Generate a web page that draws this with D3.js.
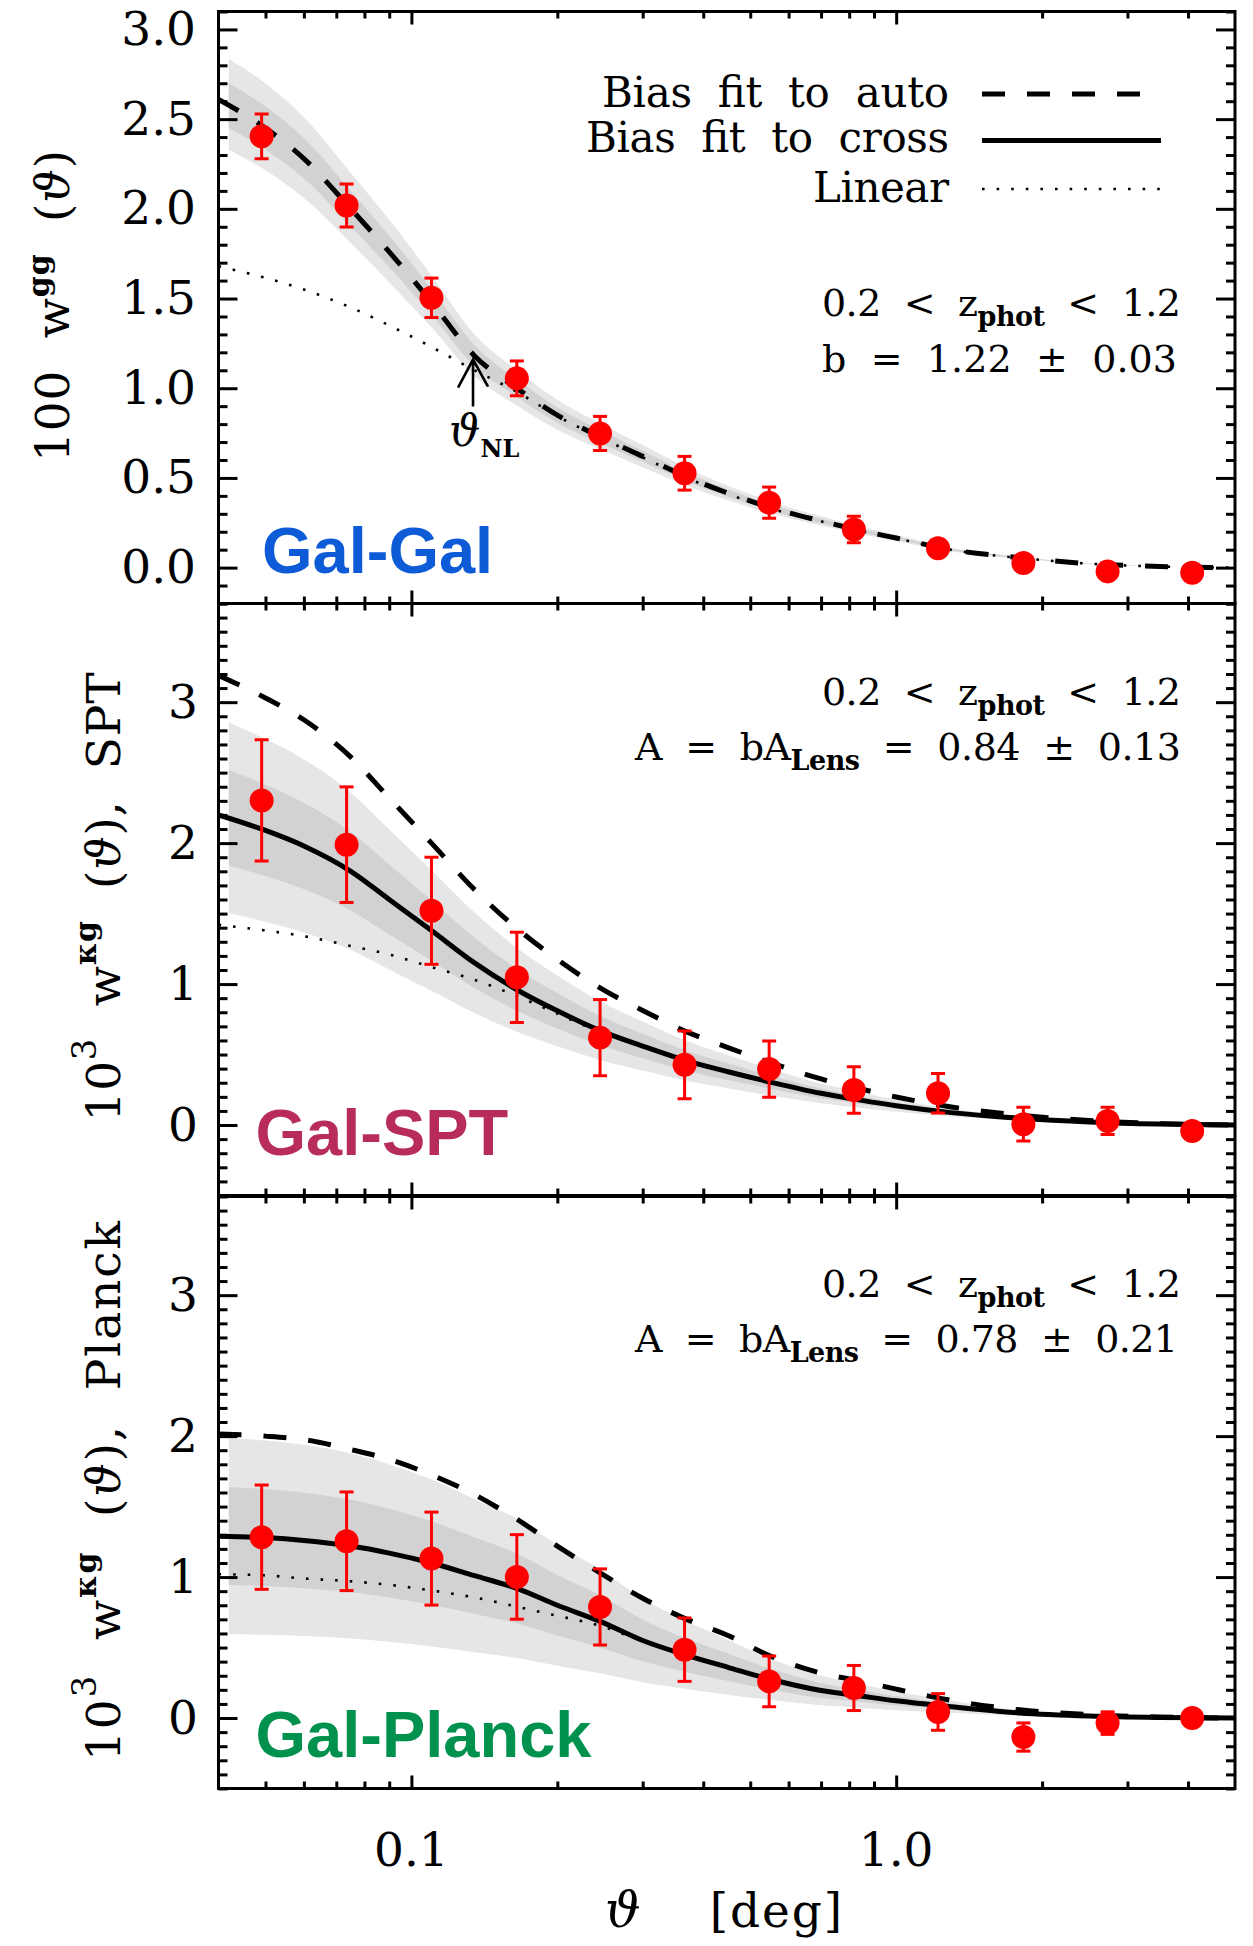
<!DOCTYPE html>
<html><head><meta charset="utf-8">
<script src="https://cdn.jsdelivr.net/npm/d3@7"></script>
<style>
html,body{margin:0;padding:0;background:#fff;}
svg{display:block;}
text{font-family:"DejaVu Serif",serif;fill:#000;}
</style></head><body>
<svg id="c" width="1253" height="1946"></svg>
<script>
// ================= DATA =================
const thetaBins = [0.0491, 0.0735, 0.110, 0.165, 0.245, 0.366, 0.547, 0.818, 1.22, 1.83, 2.73, 4.08];

const galGalW   = [2.404, 2.019, 1.504, 1.055, 0.748, 0.526, 0.362, 0.213, 0.108, 0.026, -0.021, -0.028];
const galGalErr = [0.125, 0.120, 0.110, 0.097, 0.095, 0.094, 0.087, 0.074, 0.045, 0.035, 0.025, 0.020];

const galSptW   = [2.303, 1.989, 1.520, 1.048, 0.620, 0.427, 0.397, 0.249, 0.226, 0.006, 0.029, -0.042];
const galSptErr = [0.43, 0.41, 0.38, 0.32, 0.27, 0.24, 0.20, 0.165, 0.14, 0.12, 0.097, 0.03];

const galPlanckW   = [1.283, 1.254, 1.131, 1.001, 0.788, 0.485, 0.260, 0.213, 0.043, -0.135, -0.036, 0.000];
const galPlanckErr = [0.37, 0.35, 0.33, 0.30, 0.27, 0.225, 0.18, 0.16, 0.13, 0.10, 0.08, 0.05];

// model curves sampled on theta grid
const modelTheta = [0.04,0.05,0.06,0.075,0.09,0.11,0.135,0.165,0.2,0.245,0.3,0.37,0.45,0.55,0.7,0.85,1.0,1.3,1.8,2.5,3.5,5.0];
const bandTheta  = [0.042,0.05,0.06,0.075,0.09,0.11,0.135,0.165,0.2,0.245,0.3,0.37,0.45,0.55,0.7,0.85,1.0,1.3,1.8,2.5,3.5,5.0];

// Gal-Gal
const ggAuto   = [2.61,2.45,2.28,2.00,1.76,1.48,1.18,1.00,0.85,0.73,0.62,0.505,0.415,0.335,0.26,0.205,0.165,0.10,0.055,0.022,0.006,0.0];
const ggLinear = [1.68,1.615,1.55,1.45,1.35,1.23,1.10,0.98,0.845,0.725,0.615,0.50,0.41,0.33,0.258,0.203,0.163,0.099,0.054,0.022,0.006,0.0];
const ggLightLo = [2.33,2.215,2.06,1.81,1.59,1.34,1.067,0.904,0.768,0.66,0.56,0.457,0.375,0.303,0.235,0.185,0.149,0.09,0.05,0.02,0.005,0];
const ggDarkLo  = [2.45,2.33,2.17,1.90,1.675,1.41,1.122,0.951,0.808,0.694,0.59,0.48,0.395,0.319,0.247,0.195,0.157,0.095,0.052,0.021,0.006,0];
const ggDarkHi  = [2.70,2.57,2.395,2.10,1.85,1.555,1.24,1.05,0.893,0.767,0.651,0.53,0.436,0.352,0.273,0.215,0.173,0.105,0.058,0.023,0.006,0];
const ggLightHi = [2.835,2.70,2.51,2.20,1.94,1.63,1.30,1.10,0.936,0.804,0.683,0.556,0.457,0.369,0.286,0.226,0.182,0.11,0.061,0.024,0.007,0];

// Gal-SPT
const sptCross  = [2.20,2.09,1.98,1.80,1.60,1.38,1.15,0.96,0.81,0.67,0.56,0.455,0.378,0.305,0.225,0.175,0.137,0.088,0.048,0.022,0.007,0.0];
const sptAuto   = [3.19,3.03,2.875,2.61,2.32,2.00,1.67,1.395,1.175,0.973,0.813,0.661,0.549,0.443,0.327,0.254,0.199,0.128,0.070,0.032,0.010,0.0];
const sptLinear = [1.42,1.38,1.34,1.27,1.21,1.12,1.03,0.915,0.79,0.66,0.555,0.45,0.374,0.302,0.223,0.173,0.136,0.087,0.047,0.022,0.007,0.0];
const sptLightLo = [1.504,1.442,1.366,1.242,1.104,0.952,0.794,0.662,0.559,0.462,0.386,0.314,0.261,0.210,0.155,0.121,0.095,0.061,0.033,0.015,0.005,0];
const sptDarkLo  = [1.842,1.766,1.673,1.521,1.352,1.166,0.972,0.811,0.684,0.566,0.473,0.384,0.319,0.258,0.19,0.148,0.116,0.074,0.041,0.019,0.006,0];
const sptDarkHi  = [2.518,2.414,2.287,2.079,1.848,1.594,1.328,1.109,0.936,0.774,0.647,0.526,0.437,0.352,0.26,0.202,0.158,0.102,0.055,0.025,0.008,0];
const sptLightHi = [2.856,2.738,2.594,2.358,2.096,1.808,1.507,1.258,1.061,0.878,0.734,0.596,0.495,0.40,0.295,0.229,0.179,0.115,0.063,0.029,0.009,0];

// Gal-Planck
const plkCross  = [1.29,1.28,1.26,1.22,1.17,1.10,1.01,0.92,0.80,0.686,0.55,0.445,0.36,0.275,0.195,0.155,0.122,0.08,0.036,0.014,0.004,0.0];
const plkAuto   = [2.015,2.00,1.975,1.905,1.835,1.725,1.585,1.41,1.22,1.03,0.85,0.70,0.585,0.44,0.318,0.26,0.205,0.125,0.058,0.024,0.007,0.0];
const plkLinear = [1.02,1.012,0.99,0.97,0.945,0.905,0.855,0.79,0.725,0.655,0.545,0.442,0.357,0.273,0.194,0.154,0.121,0.079,0.036,0.014,0.004,0.0];
const plkLightLo = [0.596,0.591,0.582,0.564,0.541,0.508,0.467,0.425,0.37,0.317,0.254,0.206,0.166,0.127,0.09,0.072,0.056,0.037,0.017,0.006,0.002,0];
const plkDarkLo  = [0.943,0.936,0.921,0.892,0.855,0.804,0.738,0.673,0.585,0.501,0.402,0.325,0.263,0.201,0.143,0.113,0.089,0.058,0.026,0.01,0.003,0];
const plkDarkHi  = [1.637,1.624,1.599,1.548,1.485,1.396,1.282,1.167,1.015,0.871,0.698,0.565,0.457,0.349,0.247,0.197,0.155,0.102,0.046,0.018,0.005,0];
const plkLightHi = [1.984,1.969,1.938,1.876,1.799,1.692,1.553,1.415,1.23,1.055,0.846,0.684,0.554,0.423,0.30,0.238,0.188,0.123,0.055,0.022,0.006,0];

// ticks
const ggTicks = [0, 0.5, 1.0, 1.5, 2.0, 2.5, 3.0];
const kgTicks = [0, 1, 2, 3];
const xMajorTicks = [0.1, 1.0];
const xMinorTicks = [0.05,0.06,0.07,0.08,0.09,0.2,0.3,0.4,0.5,0.6,0.7,0.8,0.9,2,3,4];
const xTickLabels = ["0.1", "1.0"];
const thetaNL = 0.134;

// ================= LAYOUT =================
const svg = d3.select("#c");
const L = 218.5, R = 1235, PH = 592;
const x = d3.scaleLog().domain([0.04, 5]).range([L, R]);

function rich(parent, px, py, parts, opt) {
  const t = parent.append("text").attr("x", px).attr("y", py)
    .attr("text-anchor", opt.anchor || "start")
    .style("font-size", opt.size + "px").style("white-space", "pre");
  if (opt.family) t.style("font-family", opt.family);
  if (opt.weight) t.style("font-weight", opt.weight);
  if (opt.fill) t.style("fill", opt.fill);
  let shift = 0;
  parts.forEach(pt => {
    const s = pt.sup ? -pt.sup : (pt.sub ? pt.sub : 0);
    const ts = t.append("tspan").text(pt.t).attr("dy", s - shift);
    shift = s;
    if (pt.size) ts.style("font-size", pt.size + "px");
    if (pt.bold) ts.style("font-weight", "bold");
    if (pt.italic) ts.style("font-style", "italic");
  });
  if (opt.len) t.attr("textLength", opt.len).attr("lengthAdjust", "spacing");
  return t;
}

const panels = [
  { top: 11.5, ydom: [-0.2, 3.1], ticks: ggTicks, fmt: d3.format(".1f"), labelRight: 196,
    w: galGalW, err: galGalErr, auto: ggAuto, linear: ggLinear, cross: null,
    band: [ggLightLo, ggDarkLo, ggDarkHi, ggLightHi],
    name: "Gal-Gal", color: "#0d5bd7", nameX: 262, nameY: 573 },
  { top: 603.5, ydom: [-0.5, 3.7], ticks: kgTicks, fmt: d3.format("d"), labelRight: 198,
    w: galSptW, err: galSptErr, auto: sptAuto, linear: sptLinear, cross: sptCross,
    band: [sptLightLo, sptDarkLo, sptDarkHi, sptLightHi],
    name: "Gal-SPT", color: "#b82c5c", nameX: 255.5, nameY: 1155 },
  { top: 1196.5, ydom: [-0.5, 3.7], ticks: kgTicks, fmt: d3.format("d"), labelRight: 198,
    w: galPlanckW, err: galPlanckErr, auto: plkAuto, linear: plkLinear, cross: plkCross,
    band: [plkLightLo, plkDarkLo, plkDarkHi, plkLightHi],
    name: "Gal-Planck", color: "#00914f", nameX: 255.5, nameY: 1756.5 }
];

const ys = [];
panels.forEach((p, i) => {
  const y = d3.scaleLinear().domain(p.ydom).range([p.top + PH, p.top]);
  ys.push(y);
  const g = svg.append("g");
  const clipId = "clip" + i;
  svg.append("clipPath").attr("id", clipId).append("rect")
    .attr("x", L).attr("y", p.top).attr("width", R - L).attr("height", PH);
  const plot = g.append("g").attr("clip-path", `url(#${clipId})`);

  const area = (lo, hi) => d3.area()
    .x((d, k) => x(bandTheta[k])).y0((d, k) => y(lo[k])).y1((d, k) => y(hi[k]))
    .curve(d3.curveMonotoneX)(lo);
  plot.append("path").attr("d", area(p.band[0], p.band[3])).attr("fill", "#e6e6e6");
  plot.append("path").attr("d", area(p.band[1], p.band[2])).attr("fill", "#d2d2d2");

  const line = d3.line().x((d, k) => x(modelTheta[k])).y(d => y(d)).curve(d3.curveMonotoneX);
  plot.append("path").attr("d", line(p.linear)).attr("fill", "none")
    .attr("stroke", "#000").attr("stroke-width", 2.6).attr("stroke-dasharray", "2.6,12");
  if (p.cross) plot.append("path").attr("d", line(p.cross)).attr("fill", "none")
    .attr("stroke", "#000").attr("stroke-width", 5);
  plot.append("path").attr("d", line(p.auto)).attr("fill", "none")
    .attr("stroke", "#000").attr("stroke-width", 5).attr("stroke-dasharray", "23,22");

  // error bars and points
  const pts = plot.append("g");
  thetaBins.forEach((t, k) => {
    const cx = x(t), v = p.w[k], e = p.err[k];
    pts.append("line").attr("x1", cx).attr("x2", cx).attr("y1", y(v - e)).attr("y2", y(v + e))
      .attr("stroke", "#ff0000").attr("stroke-width", 3);
    [v - e, v + e].forEach(c => pts.append("line").attr("x1", cx - 7).attr("x2", cx + 7)
      .attr("y1", y(c)).attr("y2", y(c)).attr("stroke", "#ff0000").attr("stroke-width", 3));
    pts.append("circle").attr("cx", cx).attr("cy", y(v)).attr("r", 12).attr("fill", "#ff0000");
  });

  // axes
  const minorY = d3.range(Math.round(p.ydom[0] * 10), Math.round(p.ydom[1] * 10) + 1)
    .map(d => d / 10).filter(d => !p.ticks.some(t => Math.abs(t - d) < 1e-6));
  const axG = g.append("g");
  function ax(gen, tr) {
    const a = axG.append("g").attr("transform", tr).call(gen);
    a.select(".domain").remove();
    a.selectAll("text").remove();
    a.selectAll("line").attr("stroke", "#000").attr("stroke-width", 3);
  }
  ax(d3.axisRight(y).tickValues(p.ticks).tickSize(19), `translate(${L},0)`);
  ax(d3.axisRight(y).tickValues(minorY).tickSize(9), `translate(${L},0)`);
  ax(d3.axisLeft(y).tickValues(p.ticks).tickSize(19), `translate(${R},0)`);
  ax(d3.axisLeft(y).tickValues(minorY).tickSize(9), `translate(${R},0)`);
  ax(d3.axisBottom(x).tickValues(xMajorTicks).tickSize(13), `translate(0,${p.top})`);
  ax(d3.axisBottom(x).tickValues(xMinorTicks).tickSize(7), `translate(0,${p.top})`);
  ax(d3.axisTop(x).tickValues(xMajorTicks).tickSize(13), `translate(0,${p.top + PH})`);
  ax(d3.axisTop(x).tickValues(xMinorTicks).tickSize(7), `translate(0,${p.top + PH})`);
  g.append("rect").attr("x", L).attr("y", p.top).attr("width", R - L).attr("height", PH)
    .attr("fill", "none").attr("stroke", "#000").attr("stroke-width", 3);

  // y tick labels
  const lab = g.append("g").attr("transform", `translate(${L},0)`)
    .call(d3.axisLeft(y).tickValues(p.ticks).tickSize(0).tickPadding(L - p.labelRight).tickFormat(p.fmt));
  lab.select(".domain").remove();
  lab.selectAll("text").attr("font-family", null).style("font-family", '"DejaVu Serif",serif')
    .style("font-size", "47px").attr("fill", "#000");

  // panel name
  g.append("text").attr("x", p.nameX).attr("y", p.nameY).text(p.name)
    .style("font-family", '"Liberation Sans",Arial,sans-serif').style("font-weight", "bold")
    .style("font-size", "65px").style("fill", p.color);
});

// ---- Panel 1 legend ----
const leg = svg.append("g");
rich(leg, 949, 107, [{ t: "Bias  fit  to  auto" }], { anchor: "end", size: 42, len: 347 });
rich(leg, 949, 152, [{ t: "Bias  fit  to  cross" }], { anchor: "end", size: 42, len: 363 });
rich(leg, 949, 202, [{ t: "Linear" }], { anchor: "end", size: 42, len: 136 });
leg.append("line").attr("x1", 982).attr("x2", 1140).attr("y1", 94).attr("y2", 94)
  .attr("stroke", "#000").attr("stroke-width", 5).attr("stroke-dasharray", "23,22");
leg.append("line").attr("x1", 982).attr("x2", 1161).attr("y1", 140.5).attr("y2", 140.5)
  .attr("stroke", "#000").attr("stroke-width", 5);
leg.append("line").attr("x1", 982).attr("x2", 1161).attr("y1", 189).attr("y2", 189)
  .attr("stroke", "#000").attr("stroke-width", 2.6).attr("stroke-dasharray", "2.6,12");

// ---- annotations ----
const ann = svg.append("g");
const zline = [{ t: "0.2  <  z" }, { t: "phot", sub: 10, size: 27, bold: true }, { t: "  <  1.2" }];
rich(ann, 1181, 316, zline, { anchor: "end", size: 38, len: 359 });
rich(ann, 1177, 372, [{ t: "b  =  1.22  ±  0.03" }], { anchor: "end", size: 38, len: 355 });
rich(ann, 1181, 705, zline, { anchor: "end", size: 38, len: 359 });
rich(ann, 1181, 760, [{ t: "A  =  bA" }, { t: "Lens", sub: 10, size: 27, bold: true }, { t: "  =  0.84  ±  0.13" }],
  { anchor: "end", size: 38, len: 546 });
rich(ann, 1181, 1297, zline, { anchor: "end", size: 38, len: 359 });
rich(ann, 1178, 1352, [{ t: "A  =  bA" }, { t: "Lens", sub: 10, size: 27, bold: true }, { t: "  =  0.78  ±  0.21" }],
  { anchor: "end", size: 38, len: 543 });

// ---- theta_NL arrow ----
const y1 = ys[0];
const ax0 = x(thetaNL), tipY = y1(1.16);
svg.append("path")
  .attr("d", `M${ax0},${tipY + 47}L${ax0},${tipY}M${ax0 - 15},${tipY + 28}L${ax0},${tipY}L${ax0 + 15},${tipY + 27}`)
  .attr("fill", "none").attr("stroke", "#000").attr("stroke-width", 2.6);
rich(svg, ax0 - 24, tipY + 86, [{ t: "ϑ", italic: true }, { t: "NL", sub: 11, size: 24, bold: true }], { size: 44 });

// ---- y axis titles ----
function ylab(bx, cy, parts, len) {
  const gg = svg.append("g").attr("transform", `translate(${bx},${cy}) rotate(-90)`);
  rich(gg, 0, 0, parts, { anchor: "middle", size: 47, len: len });
}
ylab(69.4, 306, [{ t: "100  w" }, { t: "gg", sup: 20, size: 30, bold: true }, { t: "  (" }, { t: "ϑ", italic: true }, { t: ")" }], 312);
ylab(120.4, 897, [{ t: "10" }, { t: "3", sup: 24, size: 34 }, { t: "  w" }, { t: "κg", sup: 24, size: 30, bold: true }, { t: "  (" }, { t: "ϑ", italic: true }, { t: "),  SPT" }], 449);
ylab(120.4, 1491, [{ t: "10" }, { t: "3", sup: 24, size: 34 }, { t: "  w" }, { t: "κg", sup: 24, size: 30, bold: true }, { t: "  (" }, { t: "ϑ", italic: true }, { t: "),  Planck" }], 540);

// ---- x tick labels and title ----
svg.append("g").selectAll("text").data(xMajorTicks).join("text")
  .attr("x", d => x(d)).attr("y", 1866).attr("text-anchor", "middle")
  .style("font-size", "47px").text((d, k) => xTickLabels[k]);
rich(svg, 605, 1927, [{ t: "ϑ", italic: true, size: 50 }, { t: "    [deg]" }], { size: 47, len: 237 });
</script>
</body></html>
